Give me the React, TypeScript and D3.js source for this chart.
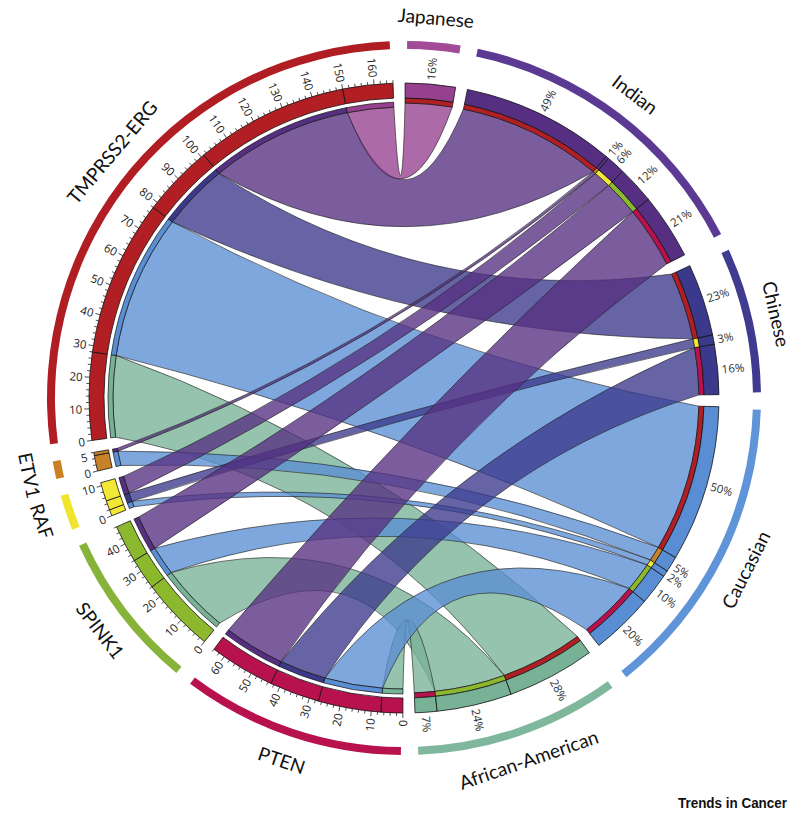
import React from "react";
import * as d3 from "d3";

const genes = ["TMPRSS2-ERG", "ETV1", "RAF", "SPINK1", "PTEN"];
const ethnicities = ["Japanese", "Indian", "Chinese", "Caucasian", "African-American"];
// percentage of patients with each alteration, per ethnicity (Japanese, Indian, Chinese, Caucasian, African-American)
const tmprss2Erg = [16, 49, 23, 50, 28];
const etv1 = [0, 1, 0, 5, 0];
const raf = [0, 6, 3, 2, 0];
const spink1 = [0, 12, 0, 10, 24];
const pten = [0, 21, 16, 20, 7];
const matrix = [tmprss2Erg, etv1, raf, spink1, pten];

const geneColors = ["#b11f24", "#c8822a", "#f2e734", "#8cb82e", "#b8124e"];
const ethColors = ["#96408f", "#562f82", "#3b398c", "#5a8ed4", "#78b296"];
const geneArcColors = ["#b01e23", "#c98124", "#f0e52e", "#88b33a", "#b8124e"];
const ethArcColors = ["#a24a98", "#5c3a94", "#3f3b90", "#6094d8", "#7fb79c"];

const W = 800, H = 822;
const CX = 404, CY = 398;
const GAP = 2.2; // degrees
const START = 0.2; // degrees, start of Japanese
const R_BAR_OUT = 315, R_BAR_IN = 300;
const R_ETH_STRIP_IN = 295;
const R_GENE_STRIP_OUT = 296, R_GENE_STRIP_IN = 291;
const R_LABEL_ARC_IN = 349, R_LABEL_ARC_OUT = 357;
const R_NAME = 382;
const K = 0.52;

const rad = (d: number) => (d * Math.PI) / 180;

type Seg = { kind: "gene" | "eth"; idx: number; name: string; start: number; end: number; total: number };
type Link = { g: number; e: number; v: number; g0: number; g1: number; e0: number; e1: number };

function layout() {
  const ethTotals = ethnicities.map((_, j) => d3.sum(matrix, (row) => row[j]));
  const geneTotals = matrix.map((row) => d3.sum(row));
  const total = d3.sum(ethTotals) + d3.sum(geneTotals);
  const unit = (360 - 10 * GAP) / total;
  const segs: Seg[] = [];
  let a = START;
  ethnicities.forEach((name, j) => {
    segs.push({ kind: "eth", idx: j, name, start: a, end: a + ethTotals[j] * unit, total: ethTotals[j] });
    a += ethTotals[j] * unit + GAP;
  });
  const geneOrder = [4, 3, 2, 1, 0];
  geneOrder.forEach((i) => {
    segs.push({ kind: "gene", idx: i, name: genes[i], start: a, end: a + geneTotals[i] * unit, total: geneTotals[i] });
    a += geneTotals[i] * unit + GAP;
  });
  const links: Link[] = [];
  const ethPos: Record<string, [number, number]> = {};
  segs.filter((s) => s.kind === "eth").forEach((s) => {
    let p = s.start;
    genes.forEach((_, i) => {
      const v = matrix[i][s.idx];
      if (v > 0) {
        ethPos[i + "_" + s.idx] = [p, p + v * unit];
        p += v * unit;
      }
    });
  });
  segs.filter((s) => s.kind === "gene").forEach((s) => {
    let p = s.start;
    [4, 3, 2, 1, 0].forEach((j) => {
      const v = matrix[s.idx][j];
      if (v > 0) {
        const ep = ethPos[s.idx + "_" + j];
        links.push({ g: s.idx, e: j, v, g0: p, g1: p + v * unit, e0: ep[0], e1: ep[1] });
        p += v * unit;
      }
    });
  });
  return { segs, links, unit };
}

const pt = (r: number, deg: number): [number, number] => [r * Math.sin(rad(deg)), -r * Math.cos(rad(deg))];

function ribbonPath(l: Link) {
  const p = d3.path();
  const a = pt(R_GENE_STRIP_IN, l.g0);
  p.moveTo(a[0], a[1]);
  p.arc(0, 0, R_GENE_STRIP_IN, rad(l.g0) - Math.PI / 2, rad(l.g1) - Math.PI / 2, false);
  const g1 = pt(R_GENE_STRIP_IN, l.g1);
  const e0 = pt(R_ETH_STRIP_IN, l.e0);
  p.quadraticCurveTo((K * (g1[0] + e0[0])) / 2, (K * (g1[1] + e0[1])) / 2, e0[0], e0[1]);
  p.arc(0, 0, R_ETH_STRIP_IN, rad(l.e0) - Math.PI / 2, rad(l.e1) - Math.PI / 2, false);
  const e1 = pt(R_ETH_STRIP_IN, l.e1);
  p.quadraticCurveTo((K * (e1[0] + a[0])) / 2, (K * (e1[1] + a[1])) / 2, a[0], a[1]);
  p.closePath();
  return p.toString();
}

const arcGen = (ri: number, ro: number, s: number, e: number) =>
  d3.arc()({ innerRadius: ri, outerRadius: ro, startAngle: rad(s), endAngle: rad(e) }) as string;

export default function App() {
  const { segs, links, unit } = layout();
  const labelFont = "Lato, 'Open Sans', sans-serif";
  const smallFont = "'Open Sans', 'DejaVu Sans', sans-serif";

  const drawOrder = [...links].sort((a, b) => b.e - a.e || a.g - b.g);

  return (
    <svg width={W} height={H} style={{ position: "absolute", left: 0, top: 0, background: "#fff" }}>
      <g transform={`translate(${CX},${CY})`}>
        {/* chords */}
        {drawOrder.map((l, i) => (
          <path key={"c" + i} d={ribbonPath(l)} fill={ethColors[l.e]} fillOpacity={0.78} stroke="#222" strokeWidth={0.8} strokeOpacity={0.8} />
        ))}
        {/* strips */}
        {links.map((l, i) => (
          <g key={"s" + i}>
            <path d={arcGen(R_GENE_STRIP_IN, R_GENE_STRIP_OUT, l.g0, l.g1)} fill={ethColors[l.e]} stroke="#111" strokeWidth={0.7} />
            <path d={arcGen(R_ETH_STRIP_IN, R_BAR_IN, l.e0, l.e1)} fill={geneColors[l.g]} stroke="#111" strokeWidth={0.7} />
          </g>
        ))}
        {/* bars */}
        {links.map((l, i) => (
          <g key={"b" + i}>
            <path d={arcGen(R_BAR_IN, R_BAR_OUT, l.g0, l.g1)} fill={geneColors[l.g]} stroke="#111" strokeWidth={0.8} />
            <path d={arcGen(R_BAR_IN, R_BAR_OUT, l.e0, l.e1)} fill={ethColors[l.e]} stroke="#111" strokeWidth={0.8} />
          </g>
        ))}
        {/* percentage labels */}
        {links.map((l, i) => {
          const m = (l.e0 + l.e1) / 2;
          return (
            <text key={"p" + i} transform={`rotate(${m - 90}) translate(${R_BAR_OUT + 4},0)`} fontSize={11.5} fontFamily={smallFont} fill="#333" dominantBaseline="central" textAnchor="start">
              {l.v + "%"}
            </text>
          );
        })}
        {/* gene ticks */}
        {segs.filter((s) => s.kind === "gene").map((s) => {
          const vals = d3.range(0, s.total + 0.01, 2);
          return (
            <g key={"t" + s.idx}>
              {vals.map((v) => {
                const a = s.start + v * unit;
                const major = v % 10 === 0;
                const p1 = pt(R_BAR_OUT, a);
                const p2 = pt(R_BAR_OUT + (major ? 5 : 3), a);
                return <line key={v} x1={p1[0]} y1={p1[1]} x2={p2[0]} y2={p2[1]} stroke="#222" strokeWidth={0.8} />;
              })}
              {d3.range(0, s.total + 0.01, s.total < 10 ? 5 : 10).map((v) => {
                const a = s.start + v * unit;
                return (
                  <text key={"l" + v} transform={`rotate(${a - 90}) translate(${R_BAR_OUT + 7},0) rotate(180)`} fontSize={11.5} fontFamily={smallFont} fill="#222" dominantBaseline="central" textAnchor="end">
                    {v}
                  </text>
                );
              })}
            </g>
          );
        })}
        {/* outer label arcs */}
        {segs.map((s) => (
          <path key={"la" + s.name} d={arcGen(R_LABEL_ARC_IN, R_LABEL_ARC_OUT, s.start + 0.3, s.end - 0.3)} fill={s.kind === "gene" ? geneArcColors[s.idx] : ethArcColors[s.idx]} />
        ))}
        {/* names */}
        {segs.map((s) => {
          const m = (s.start + s.end) / 2;
          const bottom = m > 90 && m < 270;
          const tr = bottom ? `rotate(${m - 180}) translate(0,${R_NAME})` : `rotate(${m}) translate(0,${-R_NAME})`;
          return (
            <text key={"n" + s.name} transform={tr} fontSize={19} fontFamily={labelFont} fill="#111" textAnchor="middle" dominantBaseline="central">
              {s.name}
            </text>
          );
        })}
      </g>
      <text x={678} y={808} fontFamily="'Liberation Sans', Arial, sans-serif" fontWeight="bold" fontSize={14.5} textLength={109} lengthAdjust="spacingAndGlyphs" fill="#111">
        Trends in Cancer
      </text>
    </svg>
  );
}
